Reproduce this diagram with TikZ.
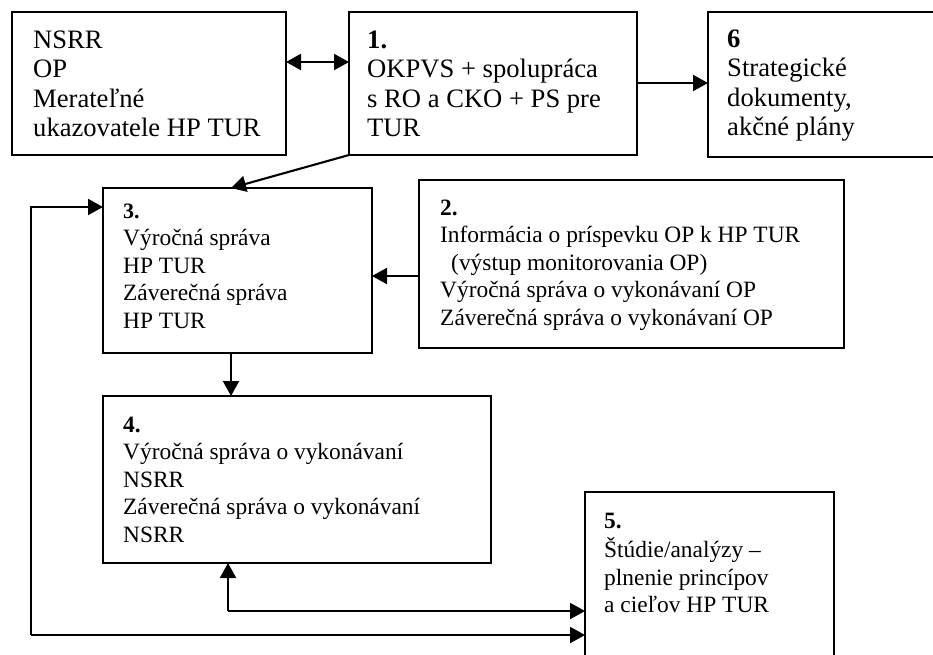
\documentclass[tikz,border=0pt]{standalone}
\usepackage{fontspec}
\setmainfont{Liberation Serif}
\usetikzlibrary{arrows.meta}
\newcommand\bigtxt{\fontsize{26.6}{29.5}\selectfont}
\newcommand\smalltxt{\fontsize{23.4}{27.5}\selectfont}
\newcommand\smallhead{\fontsize{22}{24}\selectfont\bfseries}
\begin{document}
\begin{tikzpicture}[x=1pt,y=-1pt,
  box/.style={draw,line width=2.1pt,inner sep=0pt,outer sep=0pt,anchor=north west},
  txt/.style={anchor=north west,inner sep=0pt,align=left},
  toptxt/.style={txt,font=\bigtxt},
  lowtxt/.style={txt,font=\smalltxt},
  conn/.style={line width=2.1pt,>={Triangle[length=15pt,width=16pt]}}]
\useasboundingbox (0,0) rectangle (933,654);
\clip (0,0) rectangle (933,654);
\fill[white] (0,0) rectangle (933,654);
% boxes
\node[box,minimum width=274,minimum height=143] (A) at (12,12) {};
\node[box,minimum width=288,minimum height=143] (B1) at (349,12) {};
\node[box,minimum width=240,minimum height=145] (B6) at (708,12) {};
\node[box,minimum width=269,minimum height=165] (B3) at (103,188) {};
\node[box,minimum width=425,minimum height=168] (B2) at (419,180) {};
\node[box,minimum width=388,minimum height=167] (B4) at (103,396) {};
\node[box,minimum width=249,minimum height=190] (B5) at (585,492) {};
% texts
\node[toptxt] (tA) at (33,27.35) {\strut NSRR\\OP\\Merateľné\\ukazovatele HP TUR};
\node[toptxt] (t1) at (367,27.35) {\strut\textbf{1.}\\OKPVS + spolupráca\\s RO a CKO + PS pre\\TUR};
\node[toptxt] (t6) at (727,26.4) {\strut\textbf{6}\\Strategické\\dokumenty,\\akčné plány};
\node[lowtxt] (t3) at (123,198.75) {\strut{\smallhead 3.}\\Výročná správa\\HP TUR\\Záverečná správa\\HP TUR};
\node[lowtxt] (t2) at (440,195.75) {\strut\textbf{2.}\\Informácia o príspevku OP k HP TUR\\\hspace*{11pt}(výstup monitorovania OP)\\Výročná správa o vykonávaní OP\\Záverečná správa o vykonávaní OP};
\node[lowtxt] (t4) at (123,412.75) {\strut\textbf{4.}\\Výročná správa o vykonávaní\\NSRR\\Záverečná správa o vykonávaní\\NSRR};
\node[lowtxt] (t5) at (604,508.75) {\strut\textbf{5.}\\Štúdie/analýzy –\\plnenie princípov\\a cieľov HP TUR};
% connectors
\draw[conn,<->] (A.east |- 0,62) -- (B1.west |- 0,62);
\draw[conn,->] (B1.east |- 0,83) -- (B6.west |- 0,83);
\draw[conn,->] (B1.south west) -- (B3.north -| 231,0);
\draw[conn,->] (B2.west |- 0,276) -- (B3.east |- 0,276);
\draw[conn,->] (B3.south -| 231,0) -- (B4.north -| 231,0);
\coordinate (L) at (31,635);
\draw[conn,->] (L) |- (B3.west |- 0,207);
\draw[conn,->] (L) -- (B5.west |- L);
\coordinate (M) at (228,611);
\draw[conn,->] (M) -- (B4.south -| M);
\draw[conn,->] (M) -- (B5.west |- M);
\end{tikzpicture}
\end{document}
